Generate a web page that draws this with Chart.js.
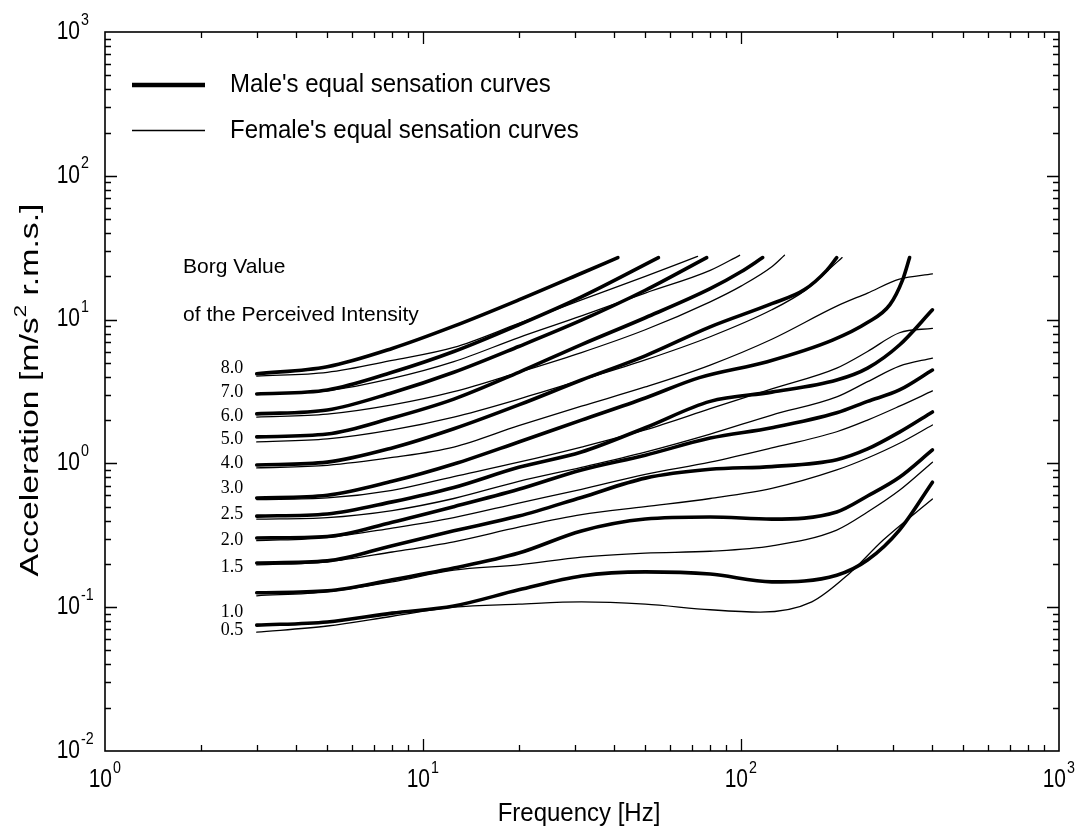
<!DOCTYPE html>
<html>
<head>
<meta charset="utf-8">
<title>Equal sensation curves</title>
<script src="https://cdn.jsdelivr.net/npm/chart.js@4"></script>
<style>
  body { margin: 0; background: #fff; }
  #wrap { width: 1083px; height: 834px; }
</style>
</head>
<body>
<div id="wrap"><canvas id="chart" width="1083" height="834"></canvas></div>
<script>
// [frequency Hz, acceleration m/s2 r.m.s.]
const male80 = [[3,4.2],[5,4.7],[8,6.3],[12.5,9.0],[20,13.7],[31.5,21],[41,27]];
const female80 = [[3,4.05],[5,4.3],[8,5.2],[12.5,6.4],[20,9.4],[31.5,13.7],[50,20],[73,27.5]];
const male70 = [[3,3.04],[5,3.24],[8,4.3],[12.5,6.0],[20,9.2],[31.5,14.4],[55,27]];
const female70 = [[3,3.04],[5,3.2],[8,3.9],[12.5,5.1],[20,7.5],[31.5,10.6],[50,15.3],[80,22],[99,28]];
const male60 = [[3,2.21],[5,2.35],[8,3.1],[12.5,4.3],[20,6.5],[31.5,9.9],[50,16],[78,27]];
const female60 = [[3,2.1],[5,2.2],[8,2.55],[12.5,3.15],[20,4.3],[31.5,5.9],[50,8.5],[80,13.3],[100,17.1],[125,23.3],[137,28]];
const male50 = [[3,1.53],[5,1.6],[8,2.07],[12.5,2.8],[20,4.3],[31.5,6.7],[50,10.3],[80,16.4],[100,21.5],[117,27]];
const female50 = [[3,1.41],[5,1.48],[8,1.71],[12.5,2.1],[20,2.8],[31.5,3.8],[50,5.24],[80,7.6],[125,11.7],[160,16.1],[200,25],[208,27]];
const male40 = [[3,0.975],[5,1.02],[8,1.28],[12.5,1.74],[20,2.55],[31.5,3.8],[50,5.6],[80,8.9],[125,12.9],[158,16.1],[186,22],[200,27]];
const female40 = [[3,0.93],[5,0.97],[8,1.1],[12.5,1.3],[20,1.83],[31.5,2.5],[50,3.4],[80,4.83],[125,7.3],[200,12.4],[250,15.3],[315,19.1],[400,20.8]];
const male30 = [[3,0.575],[5,0.6],[8,0.75],[12.5,0.99],[20,1.41],[31.5,2.0],[50,2.85],[74,3.95],[121,5.1],[194,7.2],[249,9.5],[294,12.7],[322,18.8],[339,27]];
const female30 = [[3,0.56],[5,0.575],[8,0.65],[12.5,0.81],[20,1.02],[31.5,1.3],[50,1.71],[80,2.4],[125,3.3],[200,4.6],[250,6.0],[315,8.1],[400,8.7]];
const male25 = [[3,0.43],[5,0.445],[8,0.54],[12.5,0.68],[20,0.94],[31.5,1.2],[50,1.77],[80,2.7],[125,3.13],[200,3.8],[250,4.6],[315,6.66],[400,11.7]];
const female25 = [[3,0.41],[5,0.42],[8,0.47],[12.5,0.57],[20,0.75],[31.5,0.94],[50,1.2],[80,1.6],[125,2.17],[200,2.9],[250,3.7],[315,4.75],[400,5.4]];
const male20 = [[3,0.303],[5,0.31],[8,0.39],[12.5,0.5],[20,0.66],[31.5,0.9],[50,1.14],[80,1.5],[125,1.77],[200,2.25],[250,2.7],[315,3.24],[400,4.46]];
const female20 = [[3,0.29],[5,0.305],[8,0.355],[12.5,0.42],[20,0.53],[31.5,0.66],[50,0.84],[80,1.02],[125,1.28],[200,1.66],[250,2.0],[315,2.5],[400,3.19]];
const male15 = [[3,0.203],[5,0.21],[8,0.268],[12.5,0.34],[20,0.43],[31.5,0.58],[50,0.79],[80,0.91],[125,0.95],[200,1.06],[250,1.26],[315,1.65],[400,2.28]];
const female15 = [[3,0.197],[5,0.207],[8,0.242],[12.5,0.285],[20,0.36],[31.5,0.44],[50,0.5],[80,0.57],[125,0.67],[200,0.9],[250,1.09],[315,1.38],[400,1.85]];
const male10 = [[3,0.126],[5,0.13],[8,0.155],[12.5,0.187],[20,0.238],[31.5,0.339],[50,0.41],[80,0.424],[125,0.41],[200,0.459],[250,0.593],[315,0.8],[400,1.24]];
const female10 = [[3,0.12],[5,0.128],[8,0.15],[12.5,0.181],[20,0.197],[31.5,0.223],[50,0.238],[80,0.245],[125,0.267],[200,0.344],[250,0.459],[315,0.65],[400,1.02]];
const male05 = [[3,0.075],[5,0.079],[8,0.091],[12.5,0.102],[20,0.132],[31.5,0.165],[50,0.176],[80,0.17],[125,0.15],[200,0.167],[250,0.213],[315,0.344],[400,0.74]];
const female05 = [[3,0.067],[5,0.074],[8,0.0865],[12.5,0.1],[20,0.105],[31.5,0.109],[50,0.105],[80,0.096],[115,0.0925],[167,0.109],[220,0.173],[280,0.293],[400,0.565]];

const maleCurves = [male80, male70, male60, male50, male40, male30, male25, male20, male15, male10, male05];
const femaleCurves = [female80, female70, female60, female50, female40, female30, female25, female20, female15, female10, female05];

// Borg labels and the acceleration they sit at (left of the 3 Hz starts)
const borgLabels = ['8.0', '7.0', '6.0', '5.0', '4.0', '3.0', '2.5', '2.0', '1.5', '1.0', '0.5'];
const borgLabelAcc = [4.6, 3.1, 2.14, 1.48, 1.0, 0.67, 0.44, 0.29, 0.19, 0.092, 0.069];

const xDecades = [1, 10, 100, 1000];
const yDecades = [0.01, 0.1, 1, 10, 100, 1000];

let datasets = [];
for (const c of femaleCurves) {
  datasets.push({ data: c, showLine: true, borderColor: '#000', borderWidth: 1.3, pointRadius: 0 });
}
for (const c of maleCurves) {
  datasets.push({ data: c, showLine: true, borderColor: '#000', borderWidth: 3.6, pointRadius: 0 });
}

function scaledText(ctx, text, x, y, sx, sy) {
  ctx.save();
  ctx.translate(x, y);
  ctx.scale(sx, sy);
  ctx.fillText(text, 0, 0);
  ctx.restore();
}

// "10" with a superscript exponent; "10" right edge at x10
function powLabel(ctx, exp, x10, ymid) {
  ctx.textBaseline = 'middle';
  ctx.font = '25px "Liberation Sans", Arial, sans-serif';
  ctx.textAlign = 'right';
  scaledText(ctx, '10', x10, ymid, 0.84, 1);
  ctx.font = '17px "Liberation Sans", Arial, sans-serif';
  ctx.textAlign = 'left';
  scaledText(ctx, String(exp), x10 + 1, ymid - 12, 0.84, 1);
}

const decorations = {
  id: 'decorations',
  afterDraw(chart) {
    const { ctx, chartArea: a, scales: { x, y } } = chart;
    ctx.save();
    ctx.strokeStyle = '#000';
    ctx.fillStyle = '#000';

    // ticks, inward on all four sides
    ctx.lineWidth = 1.3;
    ctx.beginPath();
    for (const d of xDecades) {
      for (let m = 1; m < 10; m++) {
        const v = d * m;
        if (v <= 1 || v >= 1000) continue;
        const px = Math.round(x.getPixelForValue(v)) + 0.5;
        const len = m === 1 ? 12 : 6;
        ctx.moveTo(px, a.bottom); ctx.lineTo(px, a.bottom - len);
        ctx.moveTo(px, a.top); ctx.lineTo(px, a.top + len);
      }
    }
    for (const d of yDecades) {
      for (let m = 1; m < 10; m++) {
        const v = d * m;
        if (v <= 0.01 || v >= 1000) continue;
        const py = Math.round(y.getPixelForValue(v)) + 0.5;
        const len = m === 1 ? 12 : 6;
        ctx.moveTo(a.left, py); ctx.lineTo(a.left + len, py);
        ctx.moveTo(a.right, py); ctx.lineTo(a.right - len, py);
      }
    }
    ctx.stroke();

    ctx.lineWidth = 1.6;
    ctx.strokeRect(a.left, a.top, a.right - a.left, a.bottom - a.top);

    // tick labels
    for (const d of xDecades) {
      const px = x.getPixelForValue(d);
      powLabel(ctx, Math.round(Math.log10(d)), px + 7, a.bottom + 29);
    }
    for (const d of yDecades) {
      const py = y.getPixelForValue(d);
      powLabel(ctx, Math.round(Math.log10(d)), a.left - 25, py);
    }

    // axis titles
    ctx.font = '24px "Liberation Sans", Arial, sans-serif';
    ctx.textAlign = 'center';
    ctx.textBaseline = 'middle';
    scaledText(ctx, 'Frequency [Hz]', 579, 814, 1.0, 1.05);

    ctx.save();
    ctx.translate(31, 390);
    ctx.rotate(-Math.PI / 2);
    const big = '26px "Liberation Sans", Arial, sans-serif';
    const small = '17px "Liberation Sans", Arial, sans-serif';
    const p1 = 'Acceleration [m/s', p2 = ' r.m.s.]';
    ctx.font = big;
    const w1 = ctx.measureText(p1).width;
    const w2 = ctx.measureText(p2).width;
    ctx.font = small;
    const ws = ctx.measureText('2').width;
    const sx = 1.3;
    const start = -(w1 + ws + w2) * sx / 2;
    ctx.textAlign = 'left';
    ctx.font = big;
    scaledText(ctx, p1, start, 0, sx, 1);
    ctx.font = small;
    scaledText(ctx, '2', start + w1 * sx, -10, sx, 1);
    ctx.font = big;
    scaledText(ctx, p2, start + (w1 + ws) * sx, 0, sx, 1);
    ctx.restore();

    // legend
    ctx.lineCap = 'butt';
    ctx.lineWidth = 4.5;
    ctx.beginPath(); ctx.moveTo(a.left + 27, 85); ctx.lineTo(a.left + 100, 85); ctx.stroke();
    ctx.lineWidth = 1.3;
    ctx.beginPath(); ctx.moveTo(a.left + 27, 130.5); ctx.lineTo(a.left + 100, 130.5); ctx.stroke();
    ctx.font = '24px "Liberation Sans", Arial, sans-serif';
    ctx.textAlign = 'left';
    ctx.textBaseline = 'middle';
    scaledText(ctx, "Male's equal sensation curves", a.left + 125, 85, 1.0, 1.1);
    scaledText(ctx, "Female's equal sensation curves", a.left + 125, 131, 1.0, 1.1);

    // Borg annotation
    ctx.font = '21px "Liberation Sans", Arial, sans-serif';
    ctx.fillText('Borg Value', x.getPixelForValue(1.76), y.getPixelForValue(23.2));
    ctx.fillText('of the Perceived Intensity', x.getPixelForValue(1.76), y.getPixelForValue(10.8));

    ctx.font = '18px "Liberation Serif", "Times New Roman", serif';
    ctx.textAlign = 'right';
    for (let i = 0; i < borgLabels.length; i++) {
      ctx.fillText(borgLabels[i], x.getPixelForValue(2.72), y.getPixelForValue(borgLabelAcc[i]));
    }
    ctx.restore();
  }
};

new Chart(document.getElementById('chart'), {
  type: 'scatter',
  data: { datasets: datasets },
  options: {
    responsive: false,
    animation: false,
    layout: { padding: { left: 105, right: 24, top: 32, bottom: 83 } },
    plugins: { legend: { display: false }, tooltip: { enabled: false } },
    elements: {
      line: { cubicInterpolationMode: 'monotone', borderCapStyle: 'round', borderJoinStyle: 'round' },
      point: { radius: 0 }
    },
    scales: {
      x: { type: 'logarithmic', min: 1, max: 1000, display: false },
      y: { type: 'logarithmic', min: 0.01, max: 1000, display: false }
    }
  },
  plugins: [decorations]
});
</script>
</body>
</html>
